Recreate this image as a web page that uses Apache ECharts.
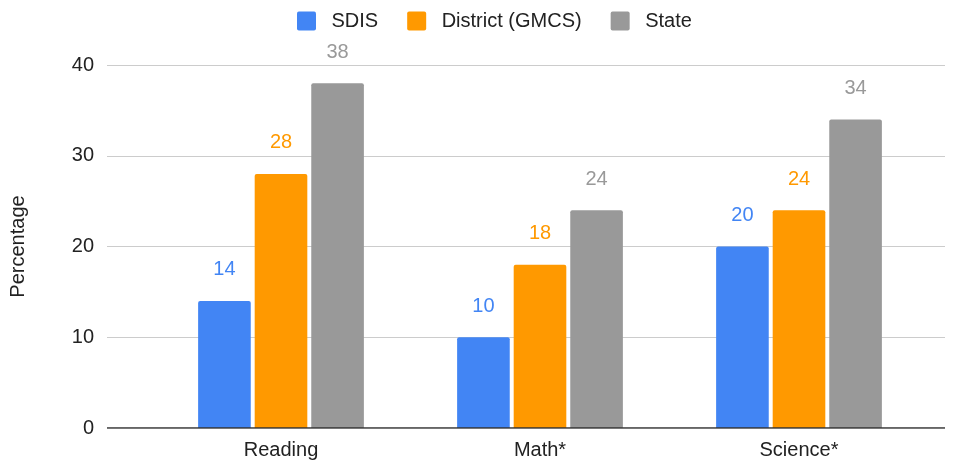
<!DOCTYPE html>
<html>
<head>
<meta charset="utf-8">
<script src="https://cdn.jsdelivr.net/npm/echarts@6/dist/echarts.min.js"></script>
<style>
  html, body { margin: 0; padding: 0; background: #fff; }
  #chart { width: 962px; height: 464px; }
</style>
</head>
<body>
<div id="chart"></div>
<script>
const categories = ['Reading', 'Math*', 'Science*'];
const sdis = [14, 10, 20];
const district = [28, 18, 24];
const state = [38, 24, 34];
const seriesNames = ['SDIS', 'District (GMCS)', 'State'];
const colors = ['#4285f4', '#ff9900', '#999999'];

const chart = echarts.init(document.getElementById('chart'));

const font = '"Liberation Sans", Arial, sans-serif';
// square legend swatch with slightly rounded corners
const swatch = 'path://M2,0 H18 Q20,0 20,2 V18 Q20,20 18,20 H2 Q0,20 0,18 V2 Q0,0 2,0 Z';

function barSeries(name, data, color) {
  return {
    name: name,
    type: 'bar',
    xAxisIndex: 1,
    yAxisIndex: 1,
    data: data,
    barGap: '7.5%',
    barCategoryGap: '36%',
    itemStyle: { color: color, borderRadius: [2, 2, 0, 0] },
    label: {
      show: true,
      position: 'top',
      distance: 21,
      color: color,
      fontSize: 20,
      fontFamily: font
    }
  };
}

const options = {
  animation: false,
  legend: {
    top: 6,
    left: 292,
    itemWidth: 20,
    itemHeight: 19,
    itemGap: 29,
    icon: swatch,
    textStyle: { fontSize: 20, color: '#222', fontFamily: font, padding: [0, 0, 0, 10] },
    data: seriesNames
  },
  grid: [
    { left: 107, right: 17, top: 65, bottom: 36 },
    { left: 151.5, right: 33.5, top: 65, bottom: 36 }
  ],
  xAxis: [
    {
      gridIndex: 0,
      type: 'value',
      min: 0,
      max: 1,
      axisLine: { show: false },
      axisTick: { show: false },
      axisLabel: { show: false },
      splitLine: { show: false }
    },
    {
      gridIndex: 1,
      type: 'category',
      data: categories,
      axisLine: { show: false },
      axisTick: { show: false },
      axisLabel: { fontSize: 20, color: '#222', fontFamily: font, margin: 12 }
    }
  ],
  yAxis: [
    {
      gridIndex: 0,
      type: 'value',
      min: 0,
      max: 40,
      interval: 10,
      name: 'Percentage',
      nameLocation: 'middle',
      nameGap: 79,
      nameTextStyle: { fontSize: 20, color: '#222', fontFamily: font },
      axisLine: { show: false },
      axisTick: { show: false },
      axisLabel: { fontSize: 20, color: '#222', fontFamily: font, margin: 13 },
      splitLine: { lineStyle: { color: '#cccccc', width: 1 } }
    },
    {
      gridIndex: 1,
      type: 'value',
      min: 0,
      max: 40,
      interval: 10,
      show: false,
      splitLine: { show: false }
    }
  ],
  series: [
    barSeries(seriesNames[0], sdis, colors[0]),
    barSeries(seriesNames[1], district, colors[1]),
    barSeries(seriesNames[2], state, colors[2]),
    {
      type: 'line',
      xAxisIndex: 0,
      yAxisIndex: 0,
      data: [[0, 0], [1, 0]],
      symbol: 'none',
      silent: true,
      lineStyle: { color: '#333333', width: 1.5 },
      z: 5
    }
  ]
};

chart.setOption(options);
</script>
</body>
</html>
